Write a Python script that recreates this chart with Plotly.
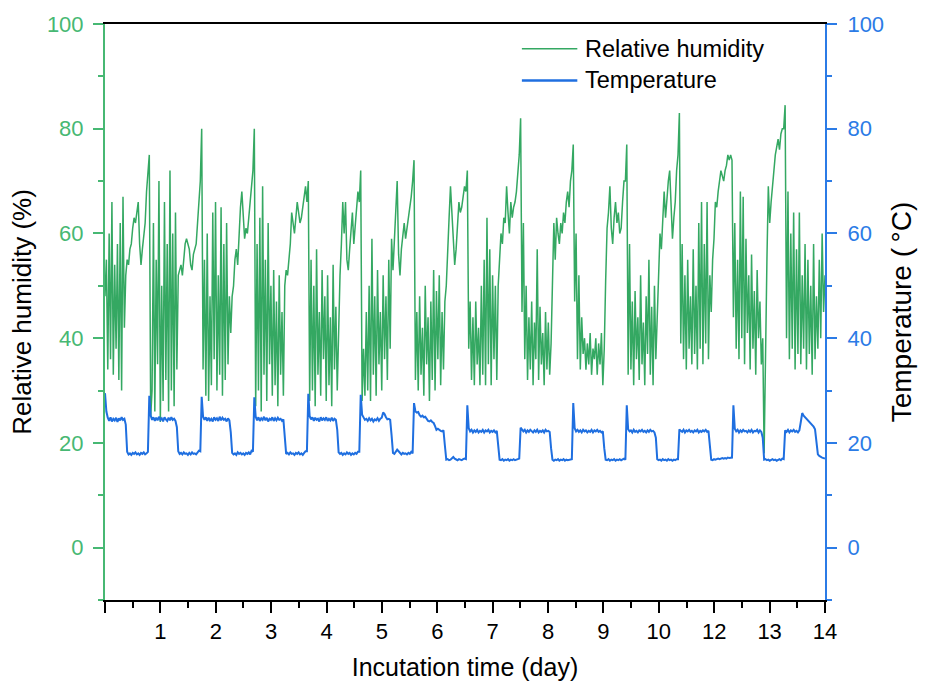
import numpy as np
import plotly.graph_objects as go

# ---- data (hours of incubation; axis tick every 24 h) ----
cycle_start_h = [0.0, 18.6, 41.3, 64.1, 87.5, 110.2, 133.3, 156.4, 179.5,
                 202.3, 225.5, 248.3, 271.7, 294.1]
end_h = 312.0

tick_vals_h = [0, 24, 48, 72, 96, 120, 144, 168, 192, 216, 240, 264, 288, 312]
tick_text = ["", "1", "2", "3", "4", "5", "6", "7", "8", "9", "10", "12", "13", "14"]

rh_cycles = [
    [48, 55, 34, 60, 36, 66, 33, 54, 38, 58, 32, 62, 30, 67, 42, 52, 55, 54, 57, 58, 61, 63, 62, 64, 66, 58, 54, 57, 59, 62, 68],
    [72, 75, 25, 30, 62, 26, 55, 35, 70, 24, 50, 28, 66, 32, 58, 26, 72, 30, 60, 27, 64, 34, 52, 53, 54, 52, 55, 58, 59, 58, 57, 54, 53, 56, 57, 58, 62, 66],
    [70, 80, 34, 55, 29, 60, 28, 48, 31, 64, 36, 66, 30, 52, 33, 65, 29, 58, 32, 62, 35, 48, 41, 48, 50, 55, 57, 54, 60, 65, 68, 62, 59, 61, 60, 63, 66, 70],
    [72, 80, 27, 58, 30, 63, 26, 69, 33, 55, 28, 62, 35, 50, 29, 53, 31, 47, 27, 52, 33, 45, 29, 50, 53, 52, 55, 58, 64, 62, 60, 63, 66, 64, 62, 63, 65, 67, 69],
    [66, 70, 28, 55, 30, 50, 27, 57, 33, 45, 29, 53, 36, 48, 28, 52, 31, 44, 27, 54, 34, 46, 30, 45, 52, 58, 66, 60, 66, 55, 53, 57, 60, 64, 58, 62, 66, 68],
    [66, 72, 28, 38, 29, 45, 30, 50, 28, 59, 33, 48, 29, 53, 35, 45, 30, 52, 36, 48, 32, 55, 38, 59, 53, 58, 65, 70, 56, 52, 57, 60, 62, 59, 61, 63, 64, 67],
    [70, 74, 32, 45, 30, 48, 33, 42, 29, 50, 35, 44, 28, 47, 32, 53, 30, 49, 36, 52, 31, 45, 34, 47, 50, 58, 63, 69, 64, 58, 54, 57, 62, 66, 64, 65, 67, 69],
    [68, 72, 38, 47, 32, 44, 31, 47, 35, 42, 31, 50, 33, 55, 31, 63, 35, 57, 31, 52, 36, 50, 32, 50, 55, 60, 58, 63, 62, 69, 64, 60, 66, 63, 65, 66, 68, 72],
    [75, 82, 45, 62, 36, 50, 32, 44, 34, 47, 31, 43, 36, 57, 32, 46, 35, 41, 31, 45, 34, 43, 33, 39, 49, 62, 55, 63, 60, 58, 62, 60, 64, 62, 66, 68, 65, 70],
    [72, 77, 47, 60, 36, 52, 34, 44, 37, 40, 34, 39, 35, 41, 33, 38, 36, 40, 33, 39, 35, 41, 31, 38, 51, 61, 64, 69, 61, 58, 63, 66, 62, 64, 60, 61, 66, 70],
    [70, 77, 33, 58, 34, 47, 31, 49, 36, 44, 32, 52, 35, 43, 31, 48, 37, 55, 33, 46, 31, 50, 36, 45, 50, 60, 57, 64, 68, 63, 67, 70, 72, 66, 59, 63, 66, 72],
    [75, 83, 39, 58, 36, 52, 34, 55, 38, 48, 35, 57, 37, 50, 34, 62, 38, 66, 35, 58, 39, 66, 36, 52, 45, 55, 59, 66, 65, 68, 70, 72, 71, 70, 72, 73, 75, 74, 75],
    [74, 44, 62, 38, 55, 36, 68, 40, 67, 35, 59, 41, 52, 34, 56, 38, 49, 33, 53, 40, 47, 35, 40, 18, 40, 55, 69, 62, 66, 70, 72, 75, 77, 78, 76, 79, 80],
    [80, 84.5, 40, 68, 36, 60, 38, 64, 34, 57, 37, 64, 35, 52, 38, 58, 34, 55, 37, 50, 33, 58, 36, 48, 38, 55, 40, 60, 45, 52],
]

temp_cycles = [
    [29.5, 26.0, 24.8, 24.2, 24.9, 24.1, 24.6, 24.3, 24.8, 24.0, 24.7, 24.3, 24.9, 24.4, 24.6, 23.5, 18.3, 17.8, 18.0, 17.7, 18.1, 17.9, 18.2, 17.8, 18.0, 17.7, 18.1, 17.9, 18.2, 17.8, 18.0],
    [18.3, 29.0, 25.2, 24.4, 24.9, 24.2, 24.8, 24.3, 25.0, 24.4, 24.7, 24.1, 24.9, 24.5, 24.2, 24.8, 24.3, 24.9, 24.4, 24.6, 24.2, 23.0, 18.4, 17.9, 18.1, 17.8, 18.2, 17.9, 18.0, 17.7, 18.1, 17.8, 18.2, 17.9, 18.0, 17.8, 18.1, 18.5],
    [18.4, 28.8, 25.0, 24.4, 24.9, 24.2, 24.8, 24.3, 24.6, 24.1, 24.9, 24.4, 24.7, 24.2, 25.0, 24.3, 24.8, 24.4, 24.6, 24.1, 24.7, 24.3, 22.0, 18.1, 17.8, 18.0, 17.7, 18.2, 17.9, 18.1, 17.8, 18.0, 17.7, 18.1, 17.9, 18.2, 17.8, 18.5],
    [18.3, 28.7, 25.0, 24.3, 24.9, 24.2, 24.7, 24.4, 25.0, 24.3, 24.8, 24.1, 24.6, 24.4, 24.9, 24.2, 24.7, 24.3, 24.8, 24.4, 24.6, 24.2, 24.5, 21.0, 17.9, 18.1, 17.8, 18.2, 17.9, 18.0, 17.7, 18.1, 17.9, 18.2, 17.8, 18.0, 17.7, 18.1, 18.4],
    [18.4, 29.4, 25.1, 24.5, 24.9, 24.2, 24.8, 24.4, 24.6, 24.1, 24.9, 24.3, 24.7, 24.4, 24.9, 24.2, 24.6, 24.3, 24.8, 24.2, 24.6, 24.4, 22.5, 18.2, 17.9, 18.1, 17.7, 18.0, 17.8, 18.2, 17.9, 18.1, 17.7, 18.0, 17.8, 18.1, 17.9, 18.3],
    [18.3, 29.2, 25.4, 24.8, 24.4, 24.6, 24.2, 24.7, 24.3, 24.6, 24.1, 24.5, 24.3, 24.7, 24.2, 24.6, 24.8, 25.8, 25.5, 24.9, 24.5, 24.6, 24.4, 21.5, 18.1, 17.9, 18.2, 18.7, 18.4, 18.0, 17.8, 18.1, 17.9, 18.0, 17.8, 18.1, 17.9, 18.3],
    [18.0, 27.6, 26.0, 25.8, 25.9, 25.3, 25.0, 25.2, 24.9, 25.0, 24.5, 24.2, 24.1, 24.3, 24.0, 23.8, 23.2, 22.5, 22.7, 22.4, 22.3, 22.2, 22.4, 19.5, 16.8, 16.9, 16.7, 16.8, 17.1, 17.3, 17.0, 16.8, 16.7, 16.9, 16.8, 16.7, 16.9, 17.0],
    [16.9, 27.2, 22.8, 22.2, 22.5, 22.0, 22.4, 22.1, 22.5, 22.0, 22.3, 22.1, 22.5, 22.0, 22.4, 22.2, 22.5, 22.0, 22.3, 22.1, 22.4, 22.0, 22.3, 19.5, 16.8, 16.7, 16.9, 16.6, 16.8, 16.7, 16.9, 16.6, 16.8, 16.7, 16.9, 16.7, 16.8, 17.0],
    [17.0, 22.9, 22.6, 22.2, 22.5, 22.0, 22.4, 22.1, 22.5, 22.2, 22.0, 22.4, 22.1, 22.5, 22.0, 22.3, 22.1, 22.4, 22.0, 22.5, 22.2, 22.3, 22.1, 19.0, 16.8, 16.6, 16.8, 16.7, 16.9, 16.6, 16.8, 16.7, 16.9, 16.6, 16.8, 16.7, 16.8, 16.9],
    [16.9, 27.6, 22.8, 22.2, 22.5, 22.1, 22.4, 22.0, 22.5, 22.2, 22.4, 22.0, 22.3, 22.1, 22.5, 22.0, 22.4, 22.2, 22.5, 22.1, 22.3, 22.0, 22.2, 19.0, 16.8, 16.7, 16.9, 16.6, 16.8, 16.7, 16.9, 16.6, 16.8, 16.7, 16.9, 16.7, 16.8, 17.0],
    [16.8, 27.2, 22.6, 22.2, 22.4, 22.0, 22.5, 22.1, 22.3, 22.0, 22.4, 22.2, 22.5, 22.1, 22.3, 22.0, 22.4, 22.1, 22.5, 22.2, 22.3, 22.0, 21.0, 16.9, 16.7, 16.8, 16.6, 16.9, 16.7, 16.8, 16.6, 16.9, 16.7, 16.8, 16.6, 16.8, 16.7, 16.9],
    [16.9, 22.6, 22.3, 22.1, 22.5, 22.0, 22.4, 22.2, 22.5, 22.1, 22.3, 22.0, 22.4, 22.2, 22.5, 22.0, 22.3, 22.1, 22.4, 22.2, 22.5, 22.1, 22.3, 20.0, 16.8, 16.7, 16.9, 16.8, 16.9, 17.0, 16.9, 17.0, 17.1, 17.0, 17.1, 17.0, 17.2, 17.1, 17.2],
    [17.2, 27.2, 22.7, 22.2, 22.5, 22.0, 22.4, 22.1, 22.5, 22.2, 22.3, 22.0, 22.4, 22.1, 22.5, 22.0, 22.3, 22.2, 22.5, 22.0, 22.4, 22.1, 21.0, 16.8, 16.9, 16.7, 16.8, 16.6, 16.8, 16.9, 16.7, 16.8, 16.6, 16.8, 16.9, 16.7, 17.0],
    [16.9, 22.4, 22.1, 22.5, 22.0, 22.4, 22.2, 22.5, 22.1, 22.3, 22.0, 22.4, 24.0, 25.7, 25.2, 24.9, 24.6, 24.4, 24.0, 23.6, 23.3, 23.1, 22.6, 20.0, 17.8, 17.5, 17.3, 17.2, 17.1, 17.0],
]


def sample_times(values_per_cycle):
    bounds = cycle_start_h + [end_h]
    out = []
    n_cyc = len(values_per_cycle)
    for k, vals in enumerate(values_per_cycle):
        last = (k == n_cyc - 1)
        out.append(np.linspace(bounds[k], bounds[k + 1], len(vals), endpoint=last))
    return np.concatenate(out)


rh_t = sample_times(rh_cycles)
rh_v = np.concatenate([np.array(c, dtype=float) for c in rh_cycles])
temp_t = sample_times(temp_cycles)
temp_v = np.concatenate([np.array(c, dtype=float) for c in temp_cycles])

# ---- styling ----
FONT = "Liberation Sans, Arial, sans-serif"
GREEN_LINE = "#34a862"
GREEN_AX = "#47b873"
BLUE_LINE = "#1f6fe0"
BLUE_AX = "#2b7be6"

fig = go.Figure()
fig.add_trace(go.Scatter(x=rh_t, y=rh_v, mode="lines", name="Relative humidity",
                         line=dict(color=GREEN_LINE, width=1.5), yaxis="y"))
fig.add_trace(go.Scatter(x=temp_t, y=temp_v, mode="lines", name="Temperature",
                         line=dict(color=BLUE_LINE, width=2), yaxis="y2"))

fig.update_layout(
    width=930, height=692,
    margin=dict(l=105, r=105, t=19, b=92),
    paper_bgcolor="white", plot_bgcolor="white",
    showlegend=False,
    font=dict(family=FONT, size=22, color="black"),
    xaxis=dict(
        range=[0, end_h], tickmode="array", tickvals=tick_vals_h, ticktext=tick_text,
        showgrid=False, zeroline=False,
        showline=True, linecolor="black", linewidth=2, mirror=True,
        ticks="outside", ticklen=11, tickwidth=2, tickcolor="black",
        minor=dict(tickmode="array", tickvals=[v + 12 for v in tick_vals_h[:-1]],
                   ticks="outside", ticklen=6, tickwidth=2, tickcolor="black"),
        tickfont=dict(size=22, color="black"),
        title=dict(text="Incutation time (day)", font=dict(size=25, color="black"), standoff=15),
    ),
    yaxis=dict(
        range=[-10, 100], tickmode="array", tickvals=[0, 20, 40, 60, 80, 100],
        showgrid=False, zeroline=False,
        showline=True, linecolor=GREEN_AX, linewidth=2,
        ticks="outside", ticklen=10, tickwidth=2, tickcolor=GREEN_AX,
        minor=dict(tickmode="array", tickvals=[-10, 10, 30, 50, 70, 90],
                   ticks="outside", ticklen=5, tickwidth=2, tickcolor=GREEN_AX),
        tickfont=dict(size=22, color=GREEN_AX),
        ticklabelstandoff=5,
        title=dict(text="Relative humidity (%)", font=dict(size=26, color="black"), standoff=8),
    ),
    yaxis2=dict(
        range=[-10, 100], overlaying="y", side="right", tickmode="array",
        tickvals=[0, 20, 40, 60, 80, 100],
        showgrid=False, zeroline=False,
        showline=True, linecolor=BLUE_AX, linewidth=2,
        ticks="outside", ticklen=10, tickwidth=2, tickcolor=BLUE_AX,
        minor=dict(tickmode="array", tickvals=[-10, 10, 30, 50, 70, 90],
                   ticks="outside", ticklen=5, tickwidth=2, tickcolor=BLUE_AX),
        tickfont=dict(size=22, color=BLUE_AX),
        ticklabelstandoff=6,
        title=dict(text="Temperature (\u2009°C)", font=dict(size=28, color="black"), standoff=8),
    ),
)

# custom legend (long line samples as in the original)
legend_items = [("Relative humidity", GREEN_LINE, 1.5, 0.957),
                ("Temperature", BLUE_LINE, 2.5, 0.902)]
for label, color, w, yp in legend_items:
    fig.add_shape(type="line", xref="paper", yref="paper", x0=0.579, x1=0.656,
                  y0=yp, y1=yp, line=dict(color=color, width=w))
    fig.add_annotation(xref="paper", yref="paper", x=0.664, y=yp, text=label,
                       showarrow=False, xanchor="left", yanchor="middle",
                       font=dict(size=23.5, color="black", family=FONT))

fig.write_html("out.html")
